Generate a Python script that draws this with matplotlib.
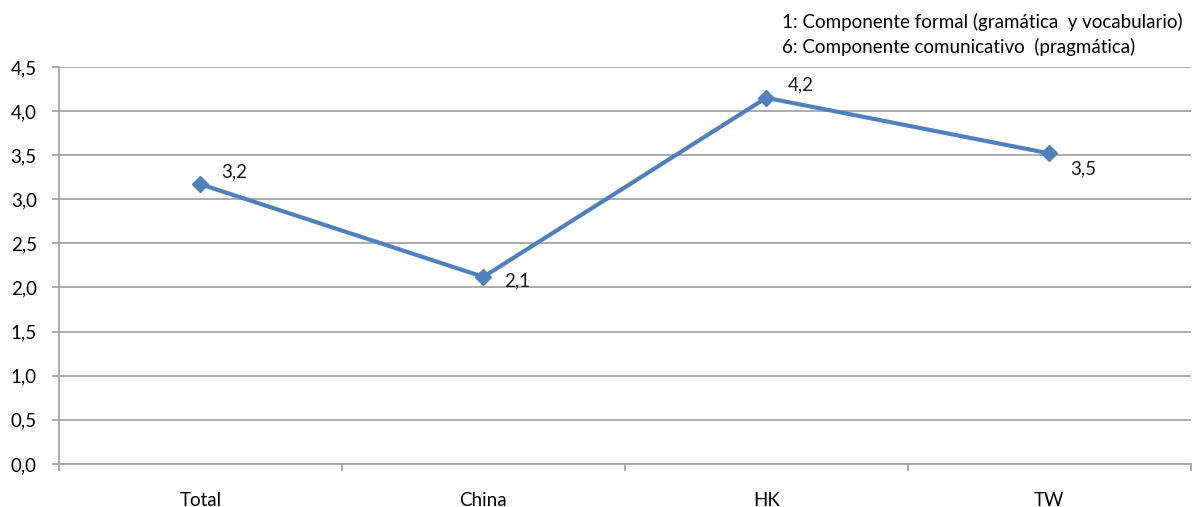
import matplotlib.pyplot as plt
from matplotlib.ticker import FixedLocator, FuncFormatter

plt.rcParams['font.family'] = ['Lato', 'DejaVu Sans']

categories = ['Total', 'China', 'HK', 'TW']
values = [3.17, 2.12, 4.15, 3.52]
# offsets of the value labels, in pixels (dx, dy)
label_offsets = [(21, 12), (21, -4), (21, 13), (21, -15)]
notes = ['1: Componente formal (gramática  y vocabulario)',
         '6: Componente comunicativo  (pragmática)']

line_color = '#4F81BD'
grid_color = '#A6A6A6'
fs = 13.5


def comma(v, pos=None):
    return ('%.1f' % v).replace('.', ',')


fig = plt.figure(figsize=(11.93, 5.07), dpi=100)
ax = fig.add_axes([0.0495, 0.085, 0.9485, 0.783])

x = list(range(len(categories)))
ax.plot(x, values, color=line_color, linewidth=3, marker='D',
        markersize=8.5, zorder=3)

for xi, v, (dx, dy) in zip(x, values, label_offsets):
    ax.annotate(comma(v), (xi, v), xytext=(dx * 0.72, dy * 0.72),
                textcoords='offset points', ha='left', va='center',
                fontsize=fs, color='#1a1a1a')

ax.set_xlim(-0.5, len(categories) - 0.5)
ax.set_ylim(0, 4.5)
ax.set_yticks([i * 0.5 for i in range(10)])
ax.yaxis.set_major_formatter(FuncFormatter(comma))
ax.grid(axis='y', color=grid_color, linewidth=1.3, zorder=0)

ax.set_xticks(x)
ax.set_xticklabels(categories)
ax.xaxis.set_minor_locator(FixedLocator([i - 0.5 for i in range(len(categories) + 1)]))
ax.tick_params(axis='x', which='major', length=0, pad=20, labelsize=fs)
ax.tick_params(axis='x', which='minor', length=5, width=1.3, color=grid_color)
ax.tick_params(axis='y', length=5, width=1.3, color=grid_color, pad=11,
               labelsize=fs)

for side in ['top', 'right']:
    ax.spines[side].set_visible(False)
for side in ['left', 'bottom']:
    ax.spines[side].set_color(grid_color)
    ax.spines[side].set_linewidth(1.3)

fig.text(782 / 1193, 1 - 22 / 507, notes[0], fontsize=fs, va='center', ha='left')
fig.text(782 / 1193, 1 - 47 / 507, notes[1], fontsize=fs, va='center', ha='left')

fig.savefig('out.png', dpi=100)
